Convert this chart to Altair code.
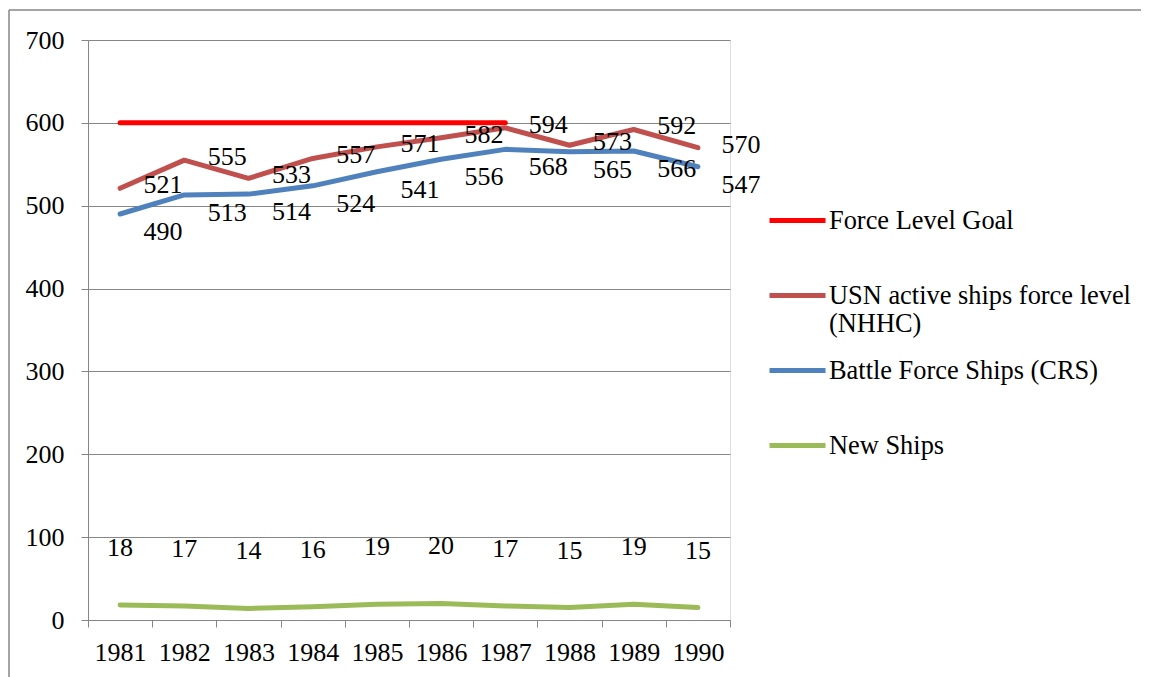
import altair as alt
import pandas as pd

years = ["1981", "1982", "1983", "1984", "1985", "1986", "1987", "1988", "1989", "1990"]
goal_years = ["1981", "1982", "1983", "1984", "1985", "1986", "1987"]
goal_values = [600, 600, 600, 600, 600, 600, 600]
usn_values = [521, 555, 533, 557, 571, 582, 594, 573, 592, 570]
bfs_values = [490, 513, 514, 524, 541, 556, 568, 565, 566, 547]
new_values = [18, 17, 14, 16, 19, 20, 17, 15, 19, 15]

series_names = [
    "Force Level Goal",
    "USN active ships force level (NHHC)",
    "Battle Force Ships (CRS)",
    "New Ships",
]
series_colors = ["#FF0000", "#C0504D", "#4F81BD", "#9BBB59"]

rows = []
for y, v in zip(goal_years, goal_values):
    rows.append({"year": y, "value": v, "series": series_names[0]})
for y, v in zip(years, usn_values):
    rows.append({"year": y, "value": v, "series": series_names[1]})
for y, v in zip(years, bfs_values):
    rows.append({"year": y, "value": v, "series": series_names[2]})
for y, v in zip(years, new_values):
    rows.append({"year": y, "value": v, "series": series_names[3]})
df = pd.DataFrame(rows)

FONT = "Liberation Serif"
GRAY = "#868686"
W, H = 642, 580

x_enc = alt.X(
    "year:N",
    sort=years,
    scale=alt.Scale(type="band", paddingInner=0, paddingOuter=0),
    axis=alt.Axis(
        title=None, labelAngle=0, tickBand="extent", tickSize=7, tickColor=GRAY,
        domainColor=GRAY, labelFont=FONT, labelFontSize=26, labelColor="black",
        labelPadding=12, grid=False,
    ),
)
y_enc = alt.Y(
    "value:Q",
    scale=alt.Scale(domain=[0, 700], nice=False),
    axis=alt.Axis(
        title=None, values=[0, 100, 200, 300, 400, 500, 600, 700], tickSize=7,
        tickColor=GRAY, domainColor=GRAY, gridColor=GRAY, grid=True,
        labelFont=FONT, labelFontSize=26, labelColor="black", labelPadding=17,
    ),
)

legend_expr = (
    "datum.label == 'USN active ships force level (NHHC)' "
    "? ['USN active ships force level', '(NHHC)'] : [datum.label, ' ']"
)

lines = alt.Chart(df).mark_line(strokeWidth=5, strokeCap="round", strokeJoin="round").encode(
    x=x_enc,
    y=y_enc,
    color=alt.Color(
        "series:N",
        scale=alt.Scale(domain=series_names, range=series_colors),
        sort=series_names,
        legend=alt.Legend(
            title=None, orient="none", legendX=679, legendY=150,
            symbolType="stroke", symbolSize=3136, symbolStrokeWidth=5,
            labelFont=FONT, labelFontSize=26.4, labelColor="black", labelOffset=1,
            rowPadding=2, labelLimit=400, labelExpr=legend_expr,
        ),
    ),
)

def labels(name, dx, dy):
    return alt.Chart(df).transform_filter(alt.datum.series == name).mark_text(
        font=FONT, fontSize=26, color="black", dx=dx, dy=dy, align="center", baseline="middle"
    ).encode(x=alt.X("year:N", sort=years), y="value:Q", text="value:Q")

usn_lbl = labels(series_names[1], 43, -3)
bfs_lbl = labels(series_names[2], 43, 18)
new_lbl = labels(series_names[3], 0, -57)

one = pd.DataFrame({"k": [0]})
frame_v = alt.Chart(one).mark_rule(color=GRAY, strokeWidth=1.5).encode(
    x=alt.value(-79), y=alt.value(-30), y2=alt.value(H + 80)
)
frame_h = alt.Chart(one).mark_rule(color=GRAY, strokeWidth=1.5).encode(
    x=alt.value(-79), x2=alt.value(W + 500), y=alt.value(-30)
)

chart = alt.layer(frame_v, frame_h, lines, usn_lbl, bfs_lbl, new_lbl).properties(
    width=W, height=H,
    autosize=alt.AutoSizeParams(type="none"),
    padding={"left": 80, "top": 32, "right": 411, "bottom": 57},
).configure_view(stroke=None).configure(background="white")

chart.save("out.html", embed_options={"renderer": "svg", "actions": False})
